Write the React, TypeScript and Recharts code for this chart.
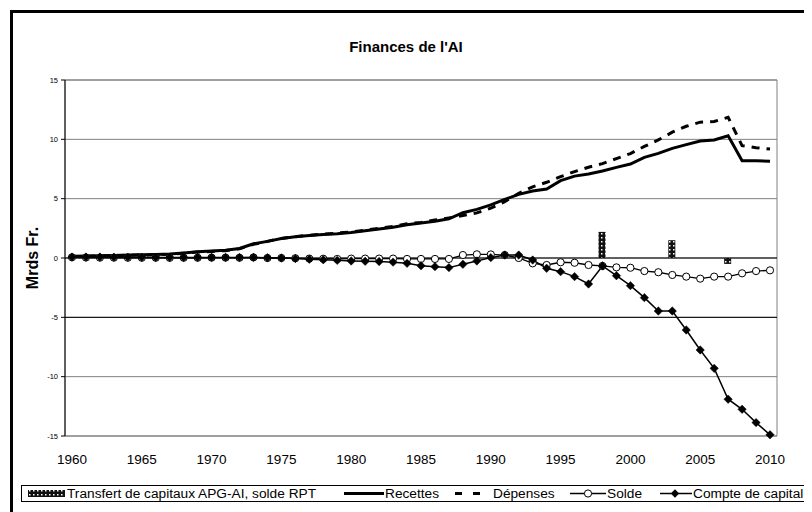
import React from "react";
import {
  ComposedChart,
  Bar,
  Line,
  XAxis,
  YAxis,
  CartesianGrid,
  ReferenceLine,
  ReferenceArea,
} from "recharts";

const years = [
  "1960", "1961", "1962", "1963", "1964", "1965", "1966", "1967", "1968", "1969",
  "1970", "1971", "1972", "1973", "1974", "1975", "1976", "1977", "1978", "1979",
  "1980", "1981", "1982", "1983", "1984", "1985", "1986", "1987", "1988", "1989",
  "1990", "1991", "1992", "1993", "1994", "1995", "1996", "1997", "1998", "1999",
  "2000", "2001", "2002", "2003", "2004", "2005", "2006", "2007", "2008", "2009",
  "2010",
];

const recettes = [
  0.15, 0.17, 0.2, 0.22, 0.25, 0.27, 0.3, 0.33, 0.42, 0.52,
  0.58, 0.65, 0.8, 1.2, 1.4, 1.65, 1.8, 1.9, 1.98, 2.05,
  2.15, 2.3, 2.45, 2.6, 2.8, 2.95, 3.1, 3.3, 3.82, 4.1,
  4.47, 4.94, 5.36, 5.64, 5.81, 6.52, 6.9, 7.08, 7.33, 7.64,
  7.92, 8.48, 8.82, 9.24, 9.55, 9.86, 9.94, 10.3, 8.2, 8.2,
  8.15,
];

const depenses = [
  0.12, 0.14, 0.17, 0.2, 0.22, 0.25, 0.28, 0.32, 0.4, 0.5,
  0.55, 0.62, 0.78, 1.15, 1.4, 1.65, 1.8, 1.92, 2.0, 2.1,
  2.2, 2.35, 2.5, 2.65, 2.88, 3.0, 3.2, 3.38, 3.58, 3.8,
  4.2, 4.75, 5.45, 6.0, 6.38, 6.85, 7.28, 7.65, 7.95, 8.38,
  8.8, 9.4, 9.95, 10.6, 11.1, 11.45, 11.5, 11.86, 9.46, 9.3,
  9.18,
];

const solde = [
  0.06, 0.04, 0.03, 0.03, 0.02, 0.02, 0.02, 0.01, 0.02, 0.02,
  0.03, 0.03, 0.02, 0.05, 0.0, 0.0, -0.02, -0.05, -0.06, -0.08,
  -0.05, -0.05, -0.05, -0.05, -0.08, -0.08, -0.08, -0.08, 0.25, 0.31,
  0.3, 0.25, 0.0, -0.45, -0.59, -0.36, -0.4, -0.59, -0.67, -0.79,
  -0.82, -1.1, -1.2, -1.43, -1.57, -1.74, -1.57, -1.57, -1.29, -1.1,
  -1.04,
];

const compte = [
  0.08, 0.08, 0.08, 0.07, 0.07, 0.06, 0.05, 0.05, 0.05, 0.05,
  0.05, 0.05, 0.05, 0.05, 0.02, 0.0, -0.05, -0.1, -0.15, -0.2,
  -0.25, -0.28, -0.3, -0.35, -0.45, -0.65, -0.73, -0.81, -0.53, -0.25,
  0.03, 0.25, 0.25, -0.17, -0.87, -1.15, -1.57, -2.19, -0.67, -1.49,
  -2.33, -3.34, -4.47, -4.47, -6.07, -7.75, -9.3, -11.9, -12.75, -13.87,
  -14.9,
];

// transferts APG-AI / solde RPT, only a few years
const transfertYears = ["1998", "2003", "2007"];
const transfertValues = [2.2, 1.5, -0.5];

const yTicks = [-15, -10, -5, 0, 5, 10, 15];

const data = years.map((year, i) => {
  const t = transfertYears.indexOf(year);
  return {
    year,
    transfert: t >= 0 ? transfertValues[t] : null,
    recettes: recettes[i],
    depenses: depenses[i],
    solde: solde[i],
    compte: compte[i],
  };
});

const FONT = "'Liberation Sans', Arial, sans-serif";

const Diamond = (props: any) => {
  const { cx, cy, index } = props;
  if (cx == null || cy == null) return <g key={`dm-${index}`} />;
  const s = 4.2;
  return (
    <path
      key={`dm-${index}`}
      d={`M${cx},${cy - s}L${cx + s},${cy}L${cx},${cy + s}L${cx - s},${cy}Z`}
      fill="#000"
      stroke="#000"
      strokeWidth={0.5}
    />
  );
};

const PatternDefs = ({ id }: { id: string }) => (
  <defs>
    <pattern id={id} width="4" height="4" patternUnits="userSpaceOnUse">
      <rect width="4" height="4" fill="#111" />
      <rect x="1" y="1" width="1.5" height="1.5" fill="#fff" />
    </pattern>
  </defs>
);

const legendText = (left: number, label: string) => (
  <div
    style={{
      position: "absolute",
      left,
      top: 477,
      height: 17,
      lineHeight: "17px",
      fontSize: 13.7,
      whiteSpace: "nowrap",
      color: "#000",
    }}
  >
    {label}
  </div>
);

// legend drawn as a plain box under the plot, Excel style
function ChartLegend() {
  return (
    <>
      <div
        style={{
          position: "absolute",
          left: 13,
          top: 477,
          width: 900,
          height: 17,
          border: "1px solid #000",
          boxSizing: "border-box",
        }}
      />
      <svg style={{ position: "absolute", left: 0, top: 477 }} width={804} height={17}>
        <PatternDefs id="rptLegend" />
        <rect x={20} y={5} width={37} height={7} fill="url(#rptLegend)" />
        <line x1={336} y1={8.5} x2={376} y2={8.5} stroke="#000" strokeWidth={3} />
        <rect x={447} y={7} width={7} height={3} fill="#000" />
        <rect x={465} y={7} width={7} height={3} fill="#000" />
        <line x1={562} y1={8.5} x2={598} y2={8.5} stroke="#000" strokeWidth={1.3} />
        <circle cx={580} cy={8.5} r={3.6} fill="#fff" stroke="#000" strokeWidth={1} />
        <line x1={652} y1={8.5} x2={684} y2={8.5} stroke="#000" strokeWidth={1.5} />
        <path d="M667,4.3L671.2,8.5L667,12.7L662.8,8.5Z" fill="#000" />
      </svg>
      {legendText(59, "Transfert de capitaux APG-AI, solde RPT")}
      {legendText(377, "Recettes")}
      {legendText(485, "Dépenses")}
      {legendText(599, "Solde")}
      {legendText(685, "Compte de capital")}
    </>
  );
}

export default function App() {
  return (
    <div
      style={{
        position: "relative",
        width: 804,
        height: 504,
        overflow: "hidden",
        fontFamily: FONT,
        background: "#fff",
      }}
    >
      <div
        style={{
          position: "absolute",
          left: 2,
          top: 2,
          width: 900,
          height: 600,
          border: "3px solid #000",
          boxSizing: "border-box",
        }}
      />
      <div
        style={{
          position: "absolute",
          left: 0,
          top: 30,
          width: 796,
          textAlign: "center",
          fontSize: 15,
          fontWeight: "bold",
          lineHeight: "18px",
        }}
      >
        Finances de l'AI
      </div>
      <div
        style={{
          position: "absolute",
          left: 25 - 50,
          top: 250 - 9,
          width: 100,
          height: 18,
          lineHeight: "18px",
          textAlign: "center",
          fontSize: 16,
          fontWeight: "bold",
          transform: "rotate(-90deg)",
        }}
      >
        Mrds Fr.
      </div>
      <div style={{ position: "absolute", left: 0, top: 0 }}>
        <ComposedChart
          width={790}
          height={470}
          data={data}
          margin={{ top: 72, right: 21, bottom: 12, left: 12 }}
        >
          <PatternDefs id="rpt" />
          <CartesianGrid vertical={false} stroke="#808080" />
          <ReferenceArea y1={-15} y2={15} fill="none" stroke="#808080" />
          <XAxis
            dataKey="year"
            interval={4}
            axisLine={false}
            tickLine={false}
            tickSize={0}
            tickMargin={18}
            tick={{ fontSize: 13.5, fill: "#000", fontFamily: FONT }}
          />
          <YAxis
            domain={[-15, 15]}
            ticks={yTicks}
            width={45}
            tickSize={4}
            tickMargin={3}
            stroke="#000"
            tick={{ fontSize: 7.5, fill: "#000", fontFamily: FONT }}
          />
          <ReferenceLine y={0} stroke="#000" />
          <ReferenceLine y={-5} stroke="#000" />
          <Bar dataKey="transfert" fill="url(#rpt)" barSize={7} isAnimationActive={false} />
          <Line
            type="linear"
            dataKey="recettes"
            stroke="#000"
            strokeWidth={3}
            dot={false}
            isAnimationActive={false}
          />
          <Line
            type="linear"
            dataKey="depenses"
            stroke="#000"
            strokeWidth={3}
            strokeDasharray="8 7"
            dot={false}
            isAnimationActive={false}
          />
          <Line
            type="linear"
            dataKey="solde"
            stroke="#000"
            strokeWidth={1.3}
            dot={{ r: 3.6, fill: "#fff", stroke: "#000", strokeWidth: 1 }}
            isAnimationActive={false}
          />
          <Line
            type="linear"
            dataKey="compte"
            stroke="#000"
            strokeWidth={1.5}
            dot={Diamond}
            isAnimationActive={false}
          />
        </ComposedChart>
      </div>
      <ChartLegend />
    </div>
  );
}
